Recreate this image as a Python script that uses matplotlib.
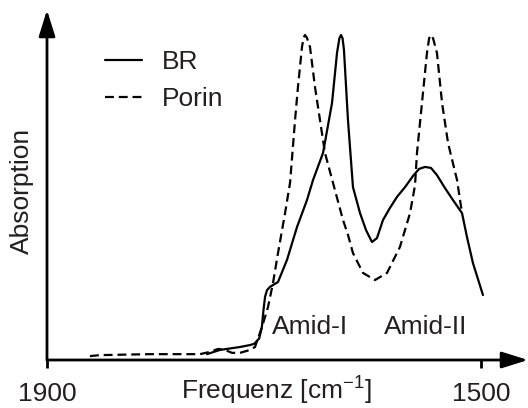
import matplotlib
matplotlib.use("Agg")
import matplotlib.pyplot as plt

plt.rcParams['font.family'] = ['Liberation Sans', 'DejaVu Sans']
plt.rcParams['mathtext.fontset'] = 'custom'
plt.rcParams['mathtext.rm'] = 'Liberation Sans'
plt.rcParams['mathtext.it'] = 'Liberation Sans'

# ---- data (wavenumber in cm^-1, absorption normalised) ----
br_wn = [1752.5, 1740.6, 1722.1, 1712.9, 1709.0, 1704.5, 1702.0, 1700.6, 1699.0,
         1697.2, 1694.5, 1687.1, 1678.8, 1669.6, 1660.4, 1654.8, 1645.6, 1637.3,
         1632.7, 1630.5, 1629.0, 1627.6, 1626.3, 1622.6, 1618.0, 1611.5, 1606.0,
         1600.5, 1595.9, 1590.3, 1583.9, 1577.4, 1570.0, 1562.7, 1557.1, 1551.6,
         1546.1, 1540.6, 1533.2, 1525.8, 1517.5, 1512.9, 1507.4, 1498.2]
br_abs = [0.018, 0.031, 0.040, 0.046, 0.050, 0.066, 0.100, 0.150, 0.195,
          0.215, 0.225, 0.240, 0.308, 0.409, 0.492, 0.554, 0.637, 0.791,
          0.945, 0.990, 1.000, 0.990, 0.954, 0.738, 0.532, 0.452, 0.400,
          0.363, 0.375, 0.431, 0.468, 0.502, 0.532, 0.566, 0.588, 0.594,
          0.591, 0.569, 0.529, 0.492, 0.452, 0.378, 0.298, 0.200]

porin_wn = [1860.4, 1851.2, 1805.1, 1759.0, 1749.8, 1742.4, 1736.0, 1729.5, 1722.1,
            1712.9, 1708.3, 1701.8, 1696.3, 1691.7, 1687.1, 1680.6, 1676.0, 1671.4,
            1668.7, 1665.0, 1663.5, 1662.2, 1660.5, 1657.6, 1653.0, 1648.4, 1643.8,
            1636.4, 1627.2, 1622.6, 1618.0, 1608.8, 1597.7, 1586.6, 1574.7, 1565.4,
            1560.8, 1559.0, 1554.4, 1549.8, 1547.8, 1546.1, 1544.2, 1540.6, 1535.9,
            1530.4, 1522.1, 1517.5]
porin_abs = [0.012, 0.015, 0.018, 0.018, 0.025, 0.034, 0.031, 0.022, 0.022,
             0.031, 0.040, 0.102, 0.163, 0.237, 0.329, 0.452, 0.545, 0.738,
             0.840, 0.963, 0.992, 1.000, 0.992, 0.963, 0.840, 0.738, 0.637,
             0.545, 0.431, 0.385, 0.329, 0.268, 0.246, 0.268, 0.348, 0.452,
             0.538, 0.637, 0.791, 0.945, 0.990, 1.000, 0.990, 0.945, 0.791,
             0.668, 0.554, 0.452]

series_labels = ["BR", "Porin"]
tick_values = [1900, 1500]
tick_labels = ["1900", "1500"]
band_labels = ["Amid-I", "Amid-II"]
band_pos = [1658, 1551]
band_level = 0.10

TXT = '#231f20'
FS = 19

W, H = 528, 408
fig = plt.figure(figsize=(W / 100, H / 100), dpi=100)
ax = fig.add_axes([47 / W, 48 / H, 481 / W, 350 / H])
ax.set_xlim(1900, 1900 - 481 / 1.085)
ax.set_ylim(0, 350 / 325)

ax.plot(br_wn, br_abs, color='k', lw=1.6, solid_joinstyle='round',
        solid_capstyle='round', label=series_labels[0])
ax.plot(porin_wn, porin_abs, color='k', lw=1.6, linestyle=(0, (4, 2.2)),
        label=series_labels[1])

for s in ax.spines.values():
    s.set_visible(False)

arrow = dict(arrowstyle='-|>,head_length=0.8,head_width=0.25', lw=2, color='k',
             mutation_scale=20, shrinkA=0, shrinkB=0)
ax.annotate('', xy=(1.0, 0), xytext=(0, 0), xycoords='axes fraction',
            textcoords='axes fraction', arrowprops=arrow)
ax.annotate('', xy=(0, 1.0), xytext=(0, 0), xycoords='axes fraction',
            textcoords='axes fraction', arrowprops=arrow)

ax.set_xticks(tick_values)
ax.set_xticklabels(tick_labels)
ax.set_yticks([])
ax.tick_params(axis='x', direction='out', length=6, width=2, pad=10,
               labelsize=FS, labelcolor=TXT)

fig.text(276 / W, 1 - 400 / H, 'Frequenz [cm$^{-1}$]', ha='center',
         va='baseline', fontsize=FS, color=TXT)
fig.text(22 / W, 1 - 191 / H, 'Absorption', rotation=90, ha='center',
         va='center', fontsize=FS, color=TXT)

for lab, pos in zip(band_labels, band_pos):
    ax.text(pos, band_level, lab, ha='center', va='center', fontsize=FS,
            color=TXT)

leg = ax.legend(loc='upper left', bbox_to_anchor=(105 / W, 1 - 50 / H),
                bbox_transform=fig.transFigure, frameon=False, fontsize=FS,
                handlelength=1.4, handletextpad=0.75, labelspacing=0.5,
                borderpad=0, borderaxespad=0)
for t in leg.get_texts():
    t.set_color(TXT)

fig.savefig('out.png', dpi=100)
